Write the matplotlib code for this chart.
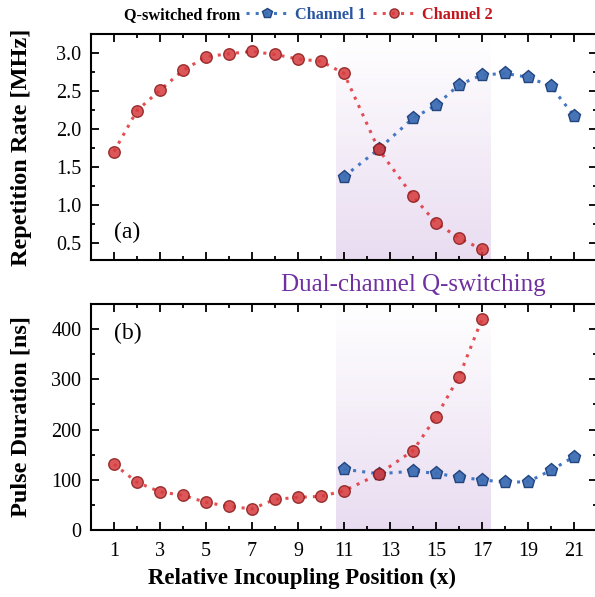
import numpy as np
import matplotlib
matplotlib.use("Agg")
import matplotlib.pyplot as plt
from matplotlib.ticker import MultipleLocator
from matplotlib.colors import LinearSegmentedColormap

plt.rcParams['font.family'] = ['Liberation Serif', 'DejaVu Serif']

# ---- data ----
x_ch2 = [1, 2, 3, 4, 5, 6, 7, 8, 9, 10, 11, 12.5, 14, 15, 16, 17]
rate_ch2 = [1.70, 2.24, 2.51, 2.77, 2.95, 2.99, 3.02, 2.98, 2.92, 2.89, 2.73, 1.73, 1.11, 0.76, 0.56, 0.41]
dur_ch2 = [131, 95, 76, 69, 55, 47, 42, 61, 65, 67, 78, 111, 158, 225, 305, 420]

x_ch1 = [11, 12.5, 14, 15, 16, 17, 18, 19, 20, 21]
rate_ch1 = [1.37, 1.73, 2.14, 2.31, 2.58, 2.71, 2.73, 2.68, 2.56, 2.17]
dur_ch1 = [121, 112, 117, 113, 105, 100, 95, 96, 119, 146]

dual_region = (10.65, 17.35)
xticks = [1, 3, 5, 7, 9, 11, 13, 15, 17, 19, 21]

# ---- style ----
blue_line = '#3a70c0'
blue_fill = '#3d6db3'
blue_edge = '#1b3f7a'
red_line = '#e03035'
red_fill = '#d63a3c'
red_edge = '#8a1b1b'

W, H = 595, 597
fig = plt.figure(figsize=(W / 100, H / 100), dpi=100)
ax1 = fig.add_axes([91 / W, 1 - 260 / H, (597 - 91) / W, (260 - 34) / H])
ax2 = fig.add_axes([91 / W, 1 - 530 / H, (597 - 91) / W, (530 - 304) / H])

cmap = LinearSegmentedColormap.from_list('grad', ['#ffffff', '#e9dcf1'])
grad = np.linspace(0, 1, 256).reshape(-1, 1)

def style(ax, ylim, major, minor):
    ax.set_xlim(0, 22)
    ax.set_ylim(*ylim)
    ax.set_xticks(xticks)
    ax.xaxis.set_minor_locator(MultipleLocator(1))
    ax.yaxis.set_major_locator(MultipleLocator(major))
    ax.yaxis.set_minor_locator(MultipleLocator(minor))
    ax.tick_params(which='both', direction='in', top=True, right=True,
                   labelsize=14.5, width=1.3)
    ax.tick_params(axis='y', pad=7)
    ax.tick_params(axis='x', pad=9)
    ax.tick_params(which='major', length=6)
    ax.tick_params(which='minor', length=3)
    for s in ax.spines.values():
        s.set_linewidth(1.5)
    ax.imshow(grad, extent=(dual_region[0], dual_region[1], ylim[0], ylim[1]),
              aspect='auto', cmap=cmap, origin='upper', zorder=0,
              interpolation='bilinear')

def series(ax, x1, y1, x2, y2):
    l1, = ax.plot(x1, y1, linestyle=(0, (1, 2)), color=blue_line, lw=2.2,
                  marker='p', ms=9.5, mfc=blue_fill, mec=blue_edge, mew=1.0,
                  alpha=0.95, zorder=3, label='Channel 1')
    l2, = ax.plot(x2, y2, linestyle=(0, (1, 2)), color=red_line, lw=2.2,
                  marker='o', ms=8.3, mfc=red_fill, mec=red_edge, mew=1.0,
                  alpha=0.85, zorder=4, label='Channel 2')
    return l1, l2

style(ax1, (0.27, 3.25), 0.5, 0.25)
style(ax2, (0, 450), 100, 50)
ax1.tick_params(labelbottom=False)
ax1.set_yticks([0.5, 1.0, 1.5, 2.0, 2.5, 3.0])
ax1.set_yticklabels(['0.5', '1.0', '1.5', '2.0', '2.5', '3.0'])

h1, h2 = series(ax1, x_ch1, rate_ch1, x_ch2, rate_ch2)
series(ax2, x_ch1, dur_ch1, x_ch2, dur_ch2)

ax1.set_ylabel('Repetition Rate [MHz]', fontsize=17.5, fontweight='bold')
ax2.set_ylabel('Pulse Duration [ns]', fontsize=17.5, fontweight='bold')
ax1.yaxis.set_label_coords(-(91 - 32) / (597 - 91), 0.5)
ax2.yaxis.set_label_coords(-(91 - 32) / (597 - 91), 0.5)
fig.text(302 / W, 1 - 578 / H, 'Relative Incoupling Position (x)', fontsize=16.5,
         fontweight='bold', ha='center', va='center')

ax1.text(0.045, 0.12, '(a)', transform=ax1.transAxes, fontsize=17, va='center')
ax2.text(0.045, 0.87, '(b)', transform=ax2.transAxes, fontsize=17, va='center')

fig.text(413 / W, 1 - 285 / H, 'Dual-channel Q-switching', color='#7030a0',
         fontsize=18, ha='center', va='center')

fig.text(240 / W, 1 - 15 / H, 'Q-switched from', fontsize=11.7, fontweight='bold',
         ha='right', va='center')
leg = fig.legend(handles=[h1, h2], loc='center left', bbox_to_anchor=(246 / W, 1 - 15 / H),
                 ncol=2, frameon=False, handlelength=2.6, handletextpad=0.4,
                 columnspacing=0.45, borderaxespad=0, borderpad=0,
                 prop={'size': 11.7, 'weight': 'bold'}, markerscale=0.8)
for t, c in zip(leg.get_texts(), ['#2a56a0', '#c3161c']):
    t.set_color(c)

fig.savefig('out.png', dpi=100)
